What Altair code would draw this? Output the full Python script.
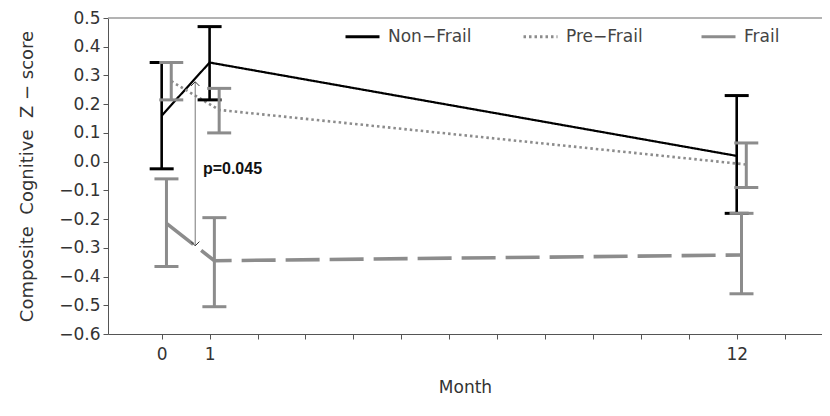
import altair as alt
import pandas as pd

# ---- data ----
months = [0, 1, 12]
groups = ["Non\u2212Frail", "Pre\u2212Frail", "Frail"]

nonfrail_mean = [0.16, 0.345, 0.02]
nonfrail_lo = [-0.025, 0.215, -0.18]
nonfrail_hi = [0.345, 0.47, 0.23]

prefrail_mean = [0.28, 0.18, -0.01]
prefrail_lo = [0.215, 0.10, -0.09]
prefrail_hi = [0.345, 0.255, 0.065]

frail_mean = [-0.215, -0.345, -0.325]
frail_lo = [-0.365, -0.505, -0.46]
frail_hi = [-0.06, -0.195, -0.18]

# small horizontal dodge (in months) so bars do not overlap
dodge = [0.0, 0.2, 0.1]

y_ticks = [-0.6, -0.5, -0.4, -0.3, -0.2, -0.1, 0.0, 0.1, 0.2, 0.3, 0.4, 0.5]
x_ticks = [0, 1, 2, 3, 4, 5, 6, 7, 8, 9, 10, 11, 12, 13]
x_labels = [0, 1, 12]

arrow_month = 0.7
arrow_top = 0.278
arrow_bottom = -0.293
p_text = ["p=0.045"]
p_pos = [0.86, -0.026]

colors = ["#000000", "#8c8c8c", "#8c8c8c"]
dashes = [[1, 0], [2.5, 3], [34, 10]]
line_widths = [2.2, 2.6, 3.6]
bar_widths = [2.6, 3, 3]

means = [nonfrail_mean, prefrail_mean, frail_mean]
los = [nonfrail_lo, prefrail_lo, frail_lo]
his = [nonfrail_hi, prefrail_hi, frail_hi]

rows = []
for gi, g in enumerate(groups):
    for mi, m in enumerate(months):
        rows.append({"group": g, "month": m, "x": m + dodge[gi],
                     "mean": means[gi][mi], "lo": los[gi][mi], "hi": his[gi][mi]})
df = pd.DataFrame(rows)

FONT = "DejaVu Sans"

x_scale = alt.Scale(domain=[-1.12, 13.78], nice=False, zero=False)
y_scale = alt.Scale(domain=[-0.6, 0.5], nice=False, zero=False)

label_test = " || ".join(f"datum.value == {v}" for v in x_labels)
x_axis = alt.Axis(values=x_ticks, labelExpr=f"({label_test}) ? datum.label : ''",
                  title="Month", grid=False, tickSize=5, labelPadding=7,
                  titlePadding=17, domainColor="#555", tickColor="#555",
                  labelFont=FONT, labelFontSize=17, labelColor="#333",
                  titleFont=FONT, titleFontSize=17, titleFontWeight="normal",
                  titleColor="#333", labelFlush=False, labelOverlap=False)
y_axis = alt.Axis(values=y_ticks, format=".1f",
                  title="Composite\u00a0 Cognitive\u00a0 Z\u00a0\u2212\u00a0score",
                  grid=False, tickSize=5, labelPadding=3, titlePadding=22,
                  domainColor="#555", tickColor="#555",
                  labelFont=FONT, labelFontSize=17, labelColor="#333",
                  titleFont=FONT, titleFontSize=18, titleFontWeight="normal",
                  titleColor="#333", labelOverlap=False, labelFlush=False)

legend = alt.Legend(title=None, orient="none", legendX=236, legendY=0,
                    direction="horizontal", symbolType="stroke",
                    symbolSize=1156, symbolStrokeWidth=3,
                    labelFont=FONT, labelFontSize=17, labelColor="#444",
                    labelOffset=7, columnPadding=45, gridAlign="all")

color_enc = alt.Color("group:N", scale=alt.Scale(domain=groups, range=colors), legend=legend)
dash_enc = alt.StrokeDash("group:N", scale=alt.Scale(domain=groups, range=dashes), legend=legend)


def X(field):
    return alt.X(field, scale=x_scale, axis=x_axis)


def Y(field):
    return alt.Y(field, scale=y_scale, axis=y_axis)


base = alt.Chart(df)

top_line = alt.Chart(pd.DataFrame({"y": [y_ticks[-1]]})).mark_rule(
    color="#9a9a9a", strokeWidth=1.5).encode(y=Y("y:Q"))

layers = [top_line]

for gi, g in enumerate(groups):
    layers.append(
        base.transform_filter(alt.datum.group == g).mark_line(strokeWidth=line_widths[gi]).encode(
            x=X("x:Q"), y=Y("mean:Q"),
            color=color_enc, strokeDash=dash_enc, order="month:Q")
    )

for gi, g in enumerate(groups):
    sub = base.transform_filter(alt.datum.group == g)
    layers.append(sub.mark_rule(color=colors[gi], strokeWidth=bar_widths[gi]).encode(
        x=X("x:Q"), y=Y("lo:Q"), y2="hi:Q"))
    layers.append(sub.mark_tick(color=colors[gi], thickness=3, size=24, orient="horizontal",
                                opacity=1).encode(x=X("x:Q"), y=Y("lo:Q")))
    layers.append(sub.mark_tick(color=colors[gi], thickness=3, size=24, orient="horizontal",
                                opacity=1).encode(x=X("x:Q"), y=Y("hi:Q")))

arrow_df = pd.DataFrame({"x": [arrow_month], "y": [arrow_top], "y2": [arrow_bottom]})
layers.append(alt.Chart(arrow_df).mark_rule(color="#777", strokeWidth=1).encode(
    x=X("x:Q"), y=Y("y:Q"), y2="y2:Q"))
layers.append(alt.Chart(arrow_df).mark_point(shape="M-1,1L0,0L1,1", size=70, filled=False,
                                             color="#333", strokeWidth=1, opacity=1).encode(
    x=X("x:Q"), y=Y("y:Q")))
layers.append(alt.Chart(arrow_df).mark_point(shape="M-1,-1L0,0L1,-1", size=70, filled=False,
                                             color="#333", strokeWidth=1, opacity=1).encode(
    x=X("x:Q"), y=Y("y2:Q")))

text_df = pd.DataFrame({"x": [p_pos[0]], "y": [p_pos[1]], "t": p_text})
layers.append(alt.Chart(text_df).mark_text(align="left", baseline="middle",
                                           font="Liberation Sans", fontSize=16,
                                           fontWeight="bold", color="#111").encode(
    x=X("x:Q"), y=Y("y:Q"), text="t:N"))

chart = alt.layer(*layers).properties(
    width=714, height=316,
    autosize=alt.AutoSizeParams(type="none"),
    padding={"left": 100, "top": 10, "right": 0, "bottom": 68},
    background="white",
).configure_view(stroke=None)

chart.save("out.html", embed_options={"renderer": "svg", "actions": False})
